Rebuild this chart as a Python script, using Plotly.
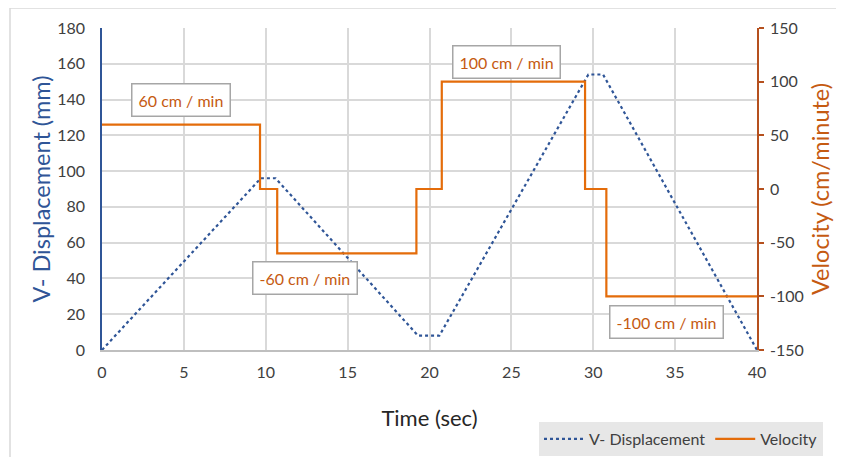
import plotly.graph_objects as go

# Displacement (mm) vs time (sec)
disp_t = [0, 9.7, 10.6, 19.3, 20.6, 29.7, 30.6, 40]
disp_v = [0, 96, 96, 8, 8, 154, 154, 0]

# Velocity (cm/minute) step profile
vel_t = [0, 9.65, 9.65, 10.7, 10.7, 19.2, 19.2, 20.75, 20.75, 29.5, 29.5, 30.8, 30.8, 40]
vel_v = [60, 60, 0, 0, -60, -60, 0, 0, 100, 100, 0, 0, -100, -100]

# Tick labels
x_ticks = [0, 5, 10, 15, 20, 25, 30, 35, 40]
y1_ticks = [0, 20, 40, 60, 80, 100, 120, 140, 160, 180]
y2_ticks = [-150, -100, -50, 0, 50, 100, 150]

# Annotation labels (x, left-axis y, text)
label_x = [4.8, 12.4, 24.7, 34.5]
label_y = [139.7, 40.2, 161, 15.7]
label_text = ["60 cm / min", "-60 cm / min", "100 cm / min", "-100 cm / min"]

BLUE = "#2F5597"
ORANGE = "#E46C0A"
BROWN = "#C55A11"
AXBROWN = "#B5501E"
FONT = "Lato"

# page body has an 8px default margin; work in figure coordinates
OFF = 8
W, H = 844 - OFF, 457 - OFF
L, R, T, B = 102 - OFF, 757 - OFF, 28 - OFF, 350 - OFF

def px(v):
    return (v - OFF - L) / (R - L)
def py(v):
    return (B - (v - OFF)) / (B - T)

fig = go.Figure()
fig.add_trace(go.Scatter(x=disp_t, y=disp_v, mode="lines", name="V- Displacement",
                         line=dict(color=BLUE, width=2.2, dash="dot")))
fig.add_trace(go.Scatter(x=vel_t, y=vel_v, mode="lines", name="Velocity",
                         line=dict(color=ORANGE, width=2.2), yaxis="y2"))

for x, y, t in zip(label_x, label_y, label_text):
    fig.add_annotation(x=x, y=y, xref="x", yref="y", text=t, showarrow=False,
                       font=dict(family=FONT, size=16, color=BROWN),
                       bgcolor="white", bordercolor="#A6A6A6", borderwidth=1.5,
                       borderpad=6)

# outer chart border
fig.add_shape(type="rect", xref="paper", yref="paper",
              x0=px(10), x1=px(870), y0=py(480), y1=py(8),
              line=dict(color="#D9D9D9", width=1.5), layer="below")

fig.update_layout(
    width=W, height=H,
    margin=dict(l=L, r=W - R, t=T, b=H - B, autoexpand=False),
    paper_bgcolor="white", plot_bgcolor="white",
    font=dict(family=FONT, size=16, color="#404040"),
    xaxis=dict(range=[0, 40], tickvals=x_ticks, ticktext=[str(v) for v in x_ticks],
               showgrid=True, gridcolor="#D9D9D9", gridwidth=1.5,
               zeroline=False, showline=True, linecolor="#BFBFBF", linewidth=1.5,
               ticks="", ticklabelstandoff=7, automargin=False,
               tickfont=dict(size=16, color="#404040"),
               title=dict(text="Time (sec)", font=dict(size=22, color="#262626"), standoff=31)),
    yaxis=dict(range=[0, 180], tickvals=y1_ticks, ticktext=[str(v) for v in y1_ticks],
               showgrid=True, gridcolor="#D9D9D9", gridwidth=1.5,
               zeroline=False, showline=True, linecolor=BLUE, linewidth=1.5,
               ticks="", ticklabelstandoff=12, automargin=False,
               tickfont=dict(size=16, color="#404040"),
               title=dict(text="V- Displacement (mm)", font=dict(size=23.5, color=BLUE), standoff=0)),
    yaxis2=dict(range=[-150, 150], tickvals=y2_ticks, ticktext=[str(v) for v in y2_ticks],
                overlaying="y", side="right", showgrid=False,
                zeroline=False, showline=True, linecolor=AXBROWN, linewidth=1.5,
                ticks="outside", ticklen=5, tickcolor=AXBROWN, tickwidth=1.5,
                ticklabelstandoff=3, automargin=False,
                tickfont=dict(size=16, color="#404040"),
                title=dict(text="Velocity (cm/minute)", font=dict(size=23.5, color=BROWN), standoff=10)),
    legend=dict(orientation="h", x=px(823), xanchor="right", y=py(422), yanchor="top",
                bgcolor="#E7E7E7", font=dict(size=16, color="#404040"),
                itemwidth=40, tracegroupgap=0),
    showlegend=True,
)

fig.write_html("out.html")
